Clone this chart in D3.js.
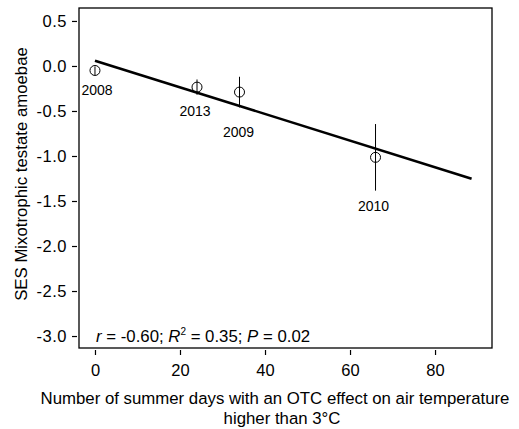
<!DOCTYPE html>
<html><head><meta charset="utf-8">
<script src="https://cdn.jsdelivr.net/npm/d3@7"></script>
<style>body{margin:0;background:#fff;} svg{display:block;font-family:"Liberation Sans",Arial,sans-serif;}</style>
</head><body>
<svg id="c" width="519" height="429"></svg>
<script>
const years = ["2008","2013","2009","2010"];
const days = [0, 24, 34, 66];
const ses = [-0.05, -0.235, -0.29, -1.015];
const errLow = [-0.10, -0.32, -0.46, -1.385];
const errHigh = [-0.005, -0.15, -0.12, -0.645];
const fitX = [0, 88.6];
const fitY = [0.059, -1.252];
const xTicks = [0, 20, 40, 60, 80];
const yTicks = [0.5, 0.0, -0.5, -1.0, -1.5, -2.0, -2.5, -3.0];
const labelOffsets = [[2, 25], [-2, 29], [-1, 45], [-2, 54]];

const svg = d3.select("#c");
const L = 79, R = 492, T = 8, B = 348;
const x = d3.scaleLinear().domain([-3.76, 93.4]).range([L, R]);
const y = d3.scaleLinear().domain([-3.133, 0.644]).range([B, T]);
const FF = "Liberation Sans, Arial, sans-serif";

// box
svg.append("rect").attr("x", L).attr("y", T).attr("width", R - L).attr("height", B - T)
  .attr("fill", "none").attr("stroke", "#000").attr("stroke-width", 1.3);

// y axis
const yAxis = svg.append("g").attr("transform", `translate(${L - 2},0)`)
  .call(d3.axisLeft(y).tickValues(yTicks).tickFormat(d3.format(".1f")).tickSize(5).tickPadding(5));
yAxis.select(".domain").remove();
yAxis.selectAll("text").attr("font-size", 16.5).attr("font-family", FF).attr("fill","#000")
  .attr("letter-spacing", 0.5)
  .text(d => d3.format(".1f")(d).replace("−", "-"));
yAxis.selectAll("line").attr("stroke-width", 1.2);

// x axis
const xAxis = svg.append("g").attr("transform", `translate(0,${B + 2})`)
  .call(d3.axisBottom(x).tickValues(xTicks).tickSize(5).tickPadding(9));
xAxis.select(".domain").remove();
xAxis.selectAll("text").attr("font-size", 16.5).attr("font-family", FF).attr("fill","#000");
xAxis.selectAll("line").attr("stroke-width", 1.2);

// regression line
svg.append("line").attr("x1", x(fitX[0])).attr("y1", y(fitY[0])).attr("x2", x(fitX[1])).attr("y2", y(fitY[1]))
  .attr("stroke", "#000").attr("stroke-width", 2.6);

// error bars
svg.selectAll(".eb").data(days).enter().append("line")
  .attr("x1", d => x(d)).attr("x2", d => x(d))
  .attr("y1", (d, i) => y(errLow[i])).attr("y2", (d, i) => y(errHigh[i]))
  .attr("stroke", "#000").attr("stroke-width", 1);

// points
svg.selectAll(".pt").data(days).enter().append("circle")
  .attr("cx", d => x(d)).attr("cy", (d, i) => y(ses[i])).attr("r", 5)
  .attr("fill", "none").attr("stroke", "#000").attr("stroke-width", 1);

// year labels
svg.selectAll(".yl").data(days).enter().append("text")
  .attr("x", (d, i) => x(d) + labelOffsets[i][0]).attr("y", (d, i) => y(ses[i]) + labelOffsets[i][1])
  .attr("text-anchor", "middle").attr("font-size", 14).text((d, i) => years[i]);

// annotation
const ann = svg.append("text").attr("x", 96).attr("y", 342).attr("font-size", 16.8);
ann.append("tspan").attr("font-style", "italic").text("r");
ann.append("tspan").text(" = -0.60; ");
ann.append("tspan").attr("font-style", "italic").text("R");
ann.append("tspan").attr("font-size", 10).attr("dy", -7).text("2");
ann.append("tspan").attr("dy", 7).text(" = 0.35; ");
ann.append("tspan").attr("font-style", "italic").text("P");
ann.append("tspan").text(" = 0.02");

// axis titles
svg.append("text").attr("transform", `translate(27,174) rotate(-90)`)
  .attr("text-anchor", "middle").attr("font-size", 16.8).text("SES Mixotrophic testate amoebae");
svg.append("text").attr("x", 275).attr("y", 404).attr("text-anchor", "middle").attr("font-size", 16.8)
  .text("Number of summer days with an OTC effect on air temperature");
svg.append("text").attr("x", 282).attr("y", 424).attr("text-anchor", "middle").attr("font-size", 16.8)
  .text("higher than 3°C");
</script>
</body></html>
